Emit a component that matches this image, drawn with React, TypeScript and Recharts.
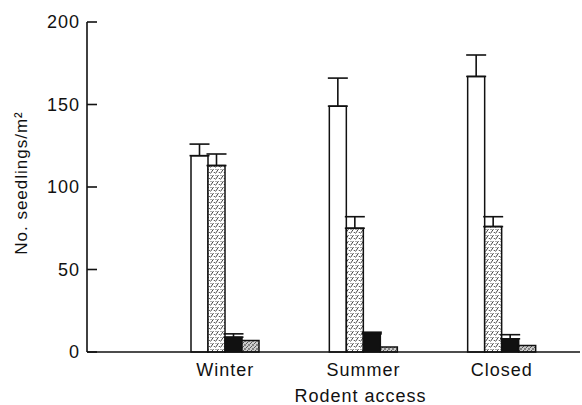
import { BarChart, Bar, XAxis, YAxis, ErrorBar, Label } from "recharts";

// rodent access treatments
const categories = ["Winter", "Summer", "Closed"];

// four seed/species classes per treatment, seedlings per m2
const whiteBars = [119, 149, 167];
const whiteErr = [7, 17, 13];
const hatchBars = [113, 75, 76];
const hatchErr = [7, 7, 6];
const blackBars = [9, 11, 8];
const blackErr = [2, 1, 2.5];
const stippleBars = [7, 3, 4];

const yTicks = [0, 50, 100, 150, 200];

const data = categories.map((name, i) => ({
  name,
  white: whiteBars[i],
  whiteErr: [0, whiteErr[i]],
  hatch: hatchBars[i],
  hatchErr: [0, hatchErr[i]],
  black: blackBars[i],
  blackErr: [0, blackErr[i]],
  stipple: stippleBars[i],
}));

const FONT = "'Liberation Sans', Arial, Helvetica, sans-serif";
const INK = "#111";

function YTick(props: any) {
  const { x, y, payload } = props;
  return (
    <g>
      <line x1={x} x2={x + 10} y1={y} y2={y} stroke={INK} strokeWidth={1.6} />
      <text
        x={x - 7}
        y={y}
        dy="0.36em"
        textAnchor="end"
        fontSize={18}
        letterSpacing={1}
        fontFamily={FONT}
        fill={INK}
      >
        {payload.value}
      </text>
    </g>
  );
}

export default function App() {
  return (
    <div style={{ position: "absolute", left: 0, top: 0, background: "#fff" }}>
      <BarChart
        width={582}
        height={405}
        data={data}
        margin={{ top: 22, right: 2, bottom: 0, left: 0 }}
        barGap={0}
        barSize={17}
      >
        <defs>
          <pattern id="hatch" patternUnits="userSpaceOnUse" width="5" height="6">
            <rect width="5" height="6" fill="#fff" />
            <line x1="0.5" y1="5.5" x2="3.5" y2="1" stroke="#333" strokeWidth="0.9" />
            <circle cx="4.3" cy="4.5" r="0.6" fill="#222" />
            <circle cx="1" cy="1.5" r="0.5" fill="#222" />
          </pattern>
          <pattern id="stipple" patternUnits="userSpaceOnUse" width="4" height="4">
            <rect width="4" height="4" fill="#ccc" />
            <circle cx="1" cy="1" r="0.8" fill="#222" />
            <line x1="2" y1="4" x2="4" y2="2" stroke="#222" strokeWidth="0.7" />
          </pattern>
        </defs>
        <XAxis
          dataKey="name"
          padding={{ left: 69, right: 9 }}
          height={53}
          tickLine={false}
          tickSize={0}
          tickMargin={11}
          axisLine={{ stroke: INK, strokeWidth: 1.6 }}
          tick={{ fontSize: 18, fill: INK, fontFamily: FONT, letterSpacing: 1 }}
        >
          <Label
            content={(props: any) => {
              const vb = props.viewBox;
              return (
                <text
                  x={vb.x + vb.width / 2 + 27}
                  y={vb.y + vb.height - 3}
                  textAnchor="middle"
                  fontSize={18}
                  letterSpacing={1}
                  fontFamily={FONT}
                  fill={INK}
                >
                  Rodent access
                </text>
              );
            }}
          />
        </XAxis>
        <YAxis
          width={87}
          domain={[0, 200]}
          ticks={yTicks}
          tickLine={false}
          tickSize={0}
          tickMargin={0}
          axisLine={{ stroke: INK, strokeWidth: 1.6 }}
          tick={<YTick />}
        >
          <Label
            content={(props: any) => {
              const vb = props.viewBox;
              const cy = vb.y + vb.height / 2 - 4;
              return (
                <text
                  x={21}
                  y={cy}
                  transform={`rotate(-90 21 ${cy})`}
                  dy="0.36em"
                  textAnchor="middle"
                  fontSize={17}
                  letterSpacing={1}
                  fontFamily={FONT}
                  fill={INK}
                >
                  No. seedlings/m²
                </text>
              );
            }}
          />
        </YAxis>
        <Bar dataKey="white" fill="#fff" stroke={INK} strokeWidth={1.5} isAnimationActive={false}>
          <ErrorBar dataKey="whiteErr" width={10} stroke={INK} strokeWidth={1.6} />
        </Bar>
        <Bar dataKey="hatch" fill="url(#hatch)" stroke={INK} strokeWidth={1.5} isAnimationActive={false}>
          <ErrorBar dataKey="hatchErr" width={10} stroke={INK} strokeWidth={1.6} />
        </Bar>
        <Bar dataKey="black" fill={INK} stroke={INK} strokeWidth={1.5} isAnimationActive={false}>
          <ErrorBar dataKey="blackErr" width={10} stroke={INK} strokeWidth={1.6} />
        </Bar>
        <Bar dataKey="stipple" fill="url(#stipple)" stroke={INK} strokeWidth={1.5} isAnimationActive={false} />
      </BarChart>
    </div>
  );
}
